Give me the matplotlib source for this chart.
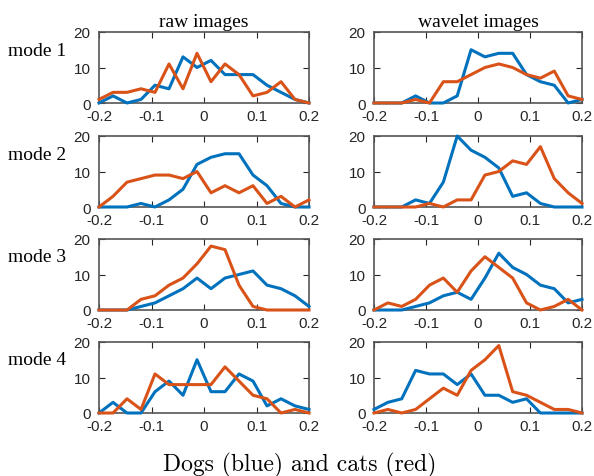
import numpy as np
import matplotlib
matplotlib.use("Agg")
import matplotlib.pyplot as plt

# bin centres shared by every histogram
bins = np.linspace(-0.2, 0.2, 16)

# raw images, one (dogs, cats) pair per mode
raw_dogs = [
    [0, 2, 0, 1, 5, 4, 13, 10, 12, 8, 8, 8, 5, 3, 1, 0],
    [0, 0, 0, 1, 0, 2, 5, 12, 14, 15, 15, 9, 6, 1, 0, 0],
    [0, 0, 0, 1, 2, 4, 6, 9, 6, 9, 10, 11, 7, 6, 4, 1],
    [0, 3, 0, 0, 6, 9, 5, 15, 6, 6, 11, 9, 2, 4, 2, 1],
]
raw_cats = [
    [1, 3, 3, 4, 3, 11, 4, 14, 6, 11, 8, 2, 3, 6, 1, 0],
    [0, 3, 7, 8, 9, 9, 8, 10, 4, 6, 4, 6, 1, 3, 0, 2],
    [0, 0, 0, 3, 4, 7, 9, 13, 18, 17, 7, 1, 0, 0, 0, 0],
    [0, 0, 4, 1, 11, 8, 8, 8, 8, 13, 9, 5, 4, 0, 1, 0],
]

# wavelet images
wav_dogs = [
    [0, 0, 0, 2, 0, 0, 2, 15, 13, 14, 14, 8, 6, 5, 0, 1],
    [0, 0, 0, 2, 1, 7, 20, 16, 14, 11, 3, 4, 1, 0, 0, 0],
    [0, 0, 0, 1, 2, 4, 5, 3, 9, 16, 12, 10, 7, 6, 2, 3],
    [1, 3, 4, 12, 11, 11, 8, 11, 5, 5, 3, 4, 0, 0, 0, 0],
]
wav_cats = [
    [0, 0, 0, 1, 0, 6, 6, 8, 10, 11, 10, 8, 7, 9, 2, 1],
    [0, 0, 0, 0, 1, 0, 2, 2, 9, 10, 13, 12, 17, 8, 4, 1],
    [0, 2, 1, 3, 7, 9, 5, 11, 15, 12, 9, 2, 0, 1, 3, 0],
    [0, 1, 0, 1, 4, 7, 5, 12, 15, 19, 6, 5, 3, 1, 1, 0],
]

column_titles = ["raw images", "wavelet images"]
row_labels = ["mode 1", "mode 2", "mode 3", "mode 4"]
x_ticks = [-0.2, -0.1, 0, 0.1, 0.2]
x_ticklabels = ["-0.2", "-0.1", "0", "0.1", "0.2"]
y_ticks = [0, 10, 20]

blue = "#0072BD"
red = "#D95319"
axis_grey = "#262626"

W, H = 594, 477
fig = plt.figure(figsize=(W / 100, H / 100), dpi=100)

col_left = [99, 374]
col_width = [210, 208]
row_top = [33, 137, 240, 343]
row_height = 71

for r in range(4):
    for c in range(2):
        ax = fig.add_axes([col_left[c] / W, 1 - (row_top[r] + row_height) / H,
                           col_width[c] / W, row_height / H])
        dogs = raw_dogs[r] if c == 0 else wav_dogs[r]
        cats = raw_cats[r] if c == 0 else wav_cats[r]
        ax.plot(bins, dogs, color=blue, lw=2.2, clip_on=False, zorder=3)
        ax.plot(bins, cats, color=red, lw=2.2, clip_on=False, zorder=3)
        ax.set_xlim(-0.2, 0.2)
        ax.set_ylim(0, 20)
        ax.set_xticks(x_ticks)
        ax.set_xticklabels(x_ticklabels)
        ax.set_yticks(y_ticks)
        ax.tick_params(direction="in", top=True, right=True, length=4,
                       width=0.8, color=axis_grey, labelcolor=axis_grey,
                       labelsize=11)
        ax.tick_params(axis="x", pad=4)
        ax.tick_params(axis="y", pad=6)
        for lbl in ax.get_xticklabels() + ax.get_yticklabels():
            lbl.set_family("Liberation Sans")
        for s in ax.spines.values():
            s.set_color("#555555")
            s.set_linewidth(1.2)
        if r == 0:
            ax.set_title(column_titles[c], family="Liberation Serif",
                         fontsize=14, pad=4)
        if c == 0:
            fig.text(8 / W, 1 - (row_top[r] + 18) / H, row_labels[r],
                     family="Liberation Serif", fontsize=14,
                     ha="left", va="center")

fig.text(0.505, 1 - 465 / H, "Dogs (blue) and cats (red)", family="cmr10",
         fontsize=17, ha="center", va="center")

fig.savefig("out.png", dpi=100)
